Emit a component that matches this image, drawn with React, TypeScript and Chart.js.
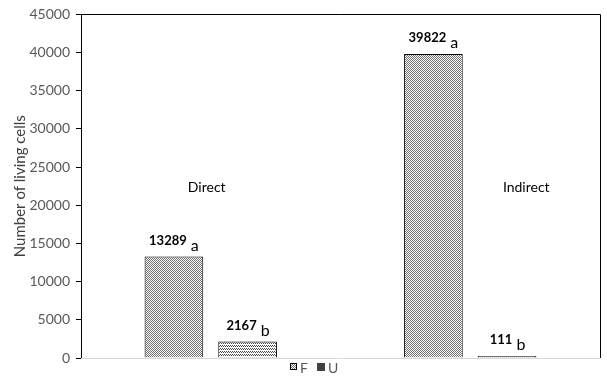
import React, { useEffect, useRef } from 'react';
import { Chart, registerables } from 'chart.js';

Chart.register(...registerables);

const categories = ['Direct', 'Indirect'];
const seriesNames = ['F', 'U'];
const valuesF = [13289, 39822];
const valuesU = [2167, 111];
const lettersF = ['a', 'a'];
const lettersU = ['b', 'b'];
const yMax = 45000;
const yStep = 5000;

const FONT = 'Lato, "Open Sans", sans-serif';

function makePattern(kind: 'F' | 'U'): CanvasPattern | string {
  const c = document.createElement('canvas');
  const ctx = c.getContext('2d');
  if (!ctx) return '#888';
  if (kind === 'F') {
    c.width = 2; c.height = 2;
    ctx.fillStyle = '#ffffff';
    ctx.fillRect(0, 0, 2, 2);
    ctx.fillStyle = '#707070';
    ctx.fillRect(0, 0, 1, 1);
    ctx.fillRect(1, 1, 1, 1);
  } else {
    c.width = 2; c.height = 3;
    ctx.fillStyle = '#ffffff';
    ctx.fillRect(0, 0, 2, 3);
    ctx.fillStyle = '#4a4a4a';
    ctx.fillRect(0, 0, 1, 1);
    ctx.fillRect(1, 1, 1, 1);
  }
  const p = ctx.createPattern(c, 'repeat');
  return p || '#888';
}

export default function App() {
  const ref = useRef<HTMLCanvasElement | null>(null);

  useEffect(() => {
    if (!ref.current) return;
    const patF = makePattern('F');
    const patU = makePattern('U');
    const letters = [lettersF, lettersU];

    const annotate = {
      id: 'annotate',
      beforeDatasetsDraw(chart: any) {
        const { ctx, chartArea } = chart;
        const { left, right, top, bottom } = chartArea;
        ctx.save();
        ctx.strokeStyle = '#d9d9d9';
        ctx.lineWidth = 1;
        ctx.beginPath();
        ctx.moveTo(left, Math.round(bottom) + 0.5);
        ctx.lineTo(right, Math.round(bottom) + 0.5);
        ctx.stroke();
        ctx.strokeStyle = '#000';
        ctx.beginPath();
        ctx.moveTo(left, Math.round(top) + 0.5);
        ctx.lineTo(Math.round(right) + 0.5, Math.round(top) + 0.5);
        ctx.lineTo(Math.round(right) + 0.5, Math.round(bottom));
        ctx.stroke();
        ctx.restore();
      },
      afterDatasetsDraw(chart: any) {
        const { ctx } = chart;
        const xs = chart.scales.x;
        const ys = chart.scales.y;
        ctx.save();
        chart.data.datasets.forEach((ds: any, di: number) => {
          const meta = chart.getDatasetMeta(di);
          meta.data.forEach((bar: any, i: number) => {
            const numText = String(ds.data[i]);
            const top = Math.min(bar.y, bar.base - 1);
            ctx.font = `bold 13px ${FONT}`;
            ctx.fillStyle = '#000';
            ctx.textAlign = 'center';
            ctx.textBaseline = 'middle';
            const cx = bar.x - 6;
            ctx.fillText(numText, cx, top - 16);
            const w = ctx.measureText(numText).width;
            ctx.font = `16px ${FONT}`;
            ctx.textAlign = 'left';
            ctx.fillText(letters[di][i], cx + w / 2 + 4, top - 11);
          });
        });
        ctx.font = `14px ${FONT}`;
        ctx.fillStyle = '#000';
        ctx.textAlign = 'center';
        ctx.textBaseline = 'middle';
        const yLab = ys.getPixelForValue(22300);
        ctx.fillText(categories[0], xs.getPixelForValue(0) - 4, yLab);
        ctx.fillText(categories[1], xs.getPixelForValue(1) + 56, yLab);
        // legend
        const ly = 367;
        const cxL = chart.width / 2;
        ctx.font = `14px ${FONT}`;
        ctx.textAlign = 'left';
        const box = 7;
        let x = Math.round(cxL - 13.5);
        ctx.fillStyle = patF as any;
        ctx.fillRect(x, ly - 4, box, box);
        ctx.strokeStyle = '#000';
        ctx.lineWidth = 1;
        ctx.strokeRect(x + 0.5, ly - 3.5, box - 1, box - 1);
        ctx.fillStyle = '#595959';
        ctx.fillText(seriesNames[0], x + 10, ly + 1);
        x = Math.round(cxL + 13);
        ctx.fillStyle = '#404040';
        ctx.fillRect(x, ly - 4, box + 1, box + 1);
        ctx.fillStyle = '#595959';
        ctx.fillText(seriesNames[1], x + 11, ly + 1);
        ctx.restore();
      },
    };

    const chart = new Chart(ref.current, {
      type: 'bar',
      data: {
        labels: categories,
        datasets: [
          {
            label: seriesNames[0],
            data: valuesF,
            backgroundColor: patF as any,
            borderColor: '#000',
            borderWidth: 1,
            categoryPercentage: 0.568,
            barPercentage: 0.796,
          },
          {
            label: seriesNames[1],
            data: valuesU,
            backgroundColor: patU as any,
            borderColor: '#000',
            borderWidth: 1,
            minBarLength: 2,
            categoryPercentage: 0.568,
            barPercentage: 0.796,
          },
        ],
      },
      options: {
        responsive: false,
        animation: false,
        devicePixelRatio: 1,
        layout: { padding: { left: 0, top: 14, right: 7, bottom: 19 } },
        plugins: {
          legend: { display: false },
          tooltip: { enabled: false },
        },
        scales: {
          x: { display: false },
          y: {
            min: 0,
            max: yMax,
            ticks: {
              stepSize: yStep,
              color: '#595959',
              font: { family: FONT, size: 14 },
              padding: 6,
              callback: (v: any) => String(v),
            },
            grid: { drawOnChartArea: false, tickLength: 5, color: '#000' },
            border: { color: '#000', width: 1 },
            title: {
              display: true,
              text: 'Number of living cells',
              color: '#404040',
              font: { family: FONT, size: 15 },
              padding: { top: 11, bottom: 0 },
            },
            afterFit(scale: any) {
              scale.width = 81;
            },
          },
        },
      },
      plugins: [annotate],
    });
    return () => chart.destroy();
  }, []);

  return (
    <div style={{ position: 'absolute', left: 0, top: 0, width: 607, height: 377, background: '#fff' }}>
      <canvas ref={ref} width={607} height={377} />
    </div>
  );
}
